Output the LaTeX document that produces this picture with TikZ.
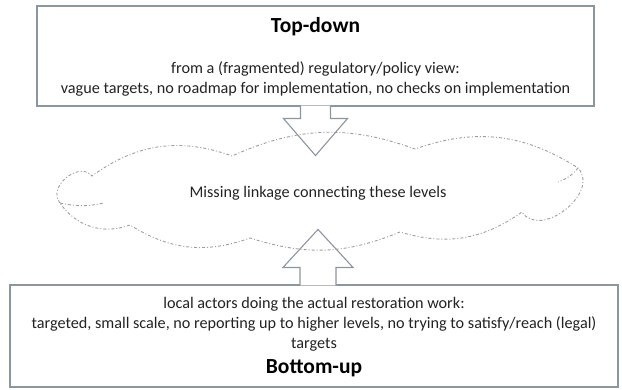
\documentclass[tikz,border=0pt]{standalone}
\usepackage{fontspec}
\setmainfont{Carlito}
\usetikzlibrary{positioning,calc}

\definecolor{framegray}{RGB}{140,150,160}
\definecolor{cloudgray}{RGB}{155,158,160}
\definecolor{inkgray}{RGB}{35,35,35}

\tikzset{
  levelbox/.style={draw=framegray, line width=1.1pt, fill=white, inner sep=0pt},
  bodytext/.style={font=\fontsize{16.2}{20}\selectfont, text=inkgray, align=center, inner sep=0pt},
  leveltitle/.style={font=\fontsize{21.5}{26}\selectfont\bfseries, text=black, inner sep=0pt},
  blockarrow/.style={draw=framegray, line width=1.1pt, fill=white, line join=miter},
  linkcloud/.style={draw=cloudgray, line width=0.9pt, dash pattern=on 3pt off 2pt on 1pt off 2pt}
}

\begin{document}
\begin{tikzpicture}[x=1pt,y=1pt]
  \useasboundingbox (0,0) rectangle (622,389);

  % top-down level
  \node[levelbox, minimum width=557pt, minimum height=100pt] (topbox) at (315.5,333) {};
  \node[leveltitle] (toptitle) at (315.5,362) {Top-down};
  \node[bodytext, below=25pt of toptitle] (toptext) {from a (fragmented) regulatory/policy view:\\
    vague targets, no roadmap for implementation, no checks on implementation};

  % bottom-up level
  \node[levelbox, minimum width=608pt, minimum height=102pt] (bottombox) at (314,53) {};
  \node[bodytext] (bottomtext) at (314,65) {local actors doing the actual restoration work:\\
    targeted, small scale, no reporting up to higher levels, no trying to satisfy/reach (legal)\\
    targets};
  \node[leveltitle, below=8pt of bottomtext] (bottomtitle) {Bottom-up};

  % block arrows towards the middle
  \coordinate (downtip) at ($(topbox.south)+(0,-49)$);
  \filldraw[blockarrow] ($(topbox.south)+(-15,1)$) |- ($(topbox.south)+(-32,-12)$)
    -- (downtip) -- ($(topbox.south)+(32,-12)$) -| ($(topbox.south)+(15,1)$);
  \coordinate (uptip) at ($(bottombox.north)+(4,55)$);
  \filldraw[blockarrow] ($(bottombox.north)+(-14,-1)$) |- ($(bottombox.north)+(-31,17)$)
    -- (uptip) -- ($(bottombox.north)+(39,17)$) -| ($(bottombox.north)+(22,-1)$);

  % missing linkage (hand drawn cloud)
  \draw[linkcloud] (60,186) to[bend left=90, looseness=1.25] (92,213)
    to[bend left=28] (232,233) to[bend left=22] (415,240) to[bend left=26] (578,221)
    to[bend left=95, looseness=1.2] (522,177) to[bend left=26] (400,157)
    to[bend left=20] (250,151) to[bend left=26] (130,164) to[bend left=38] cycle;
  \draw[linkcloud] (60,186) to[bend right=12] (104,186);
  \draw[linkcloud] (578,221) to[bend left=15] (558,207);
  \node[bodytext] (linktext) at (318,196) {Missing linkage connecting these levels};
\end{tikzpicture}
\end{document}
